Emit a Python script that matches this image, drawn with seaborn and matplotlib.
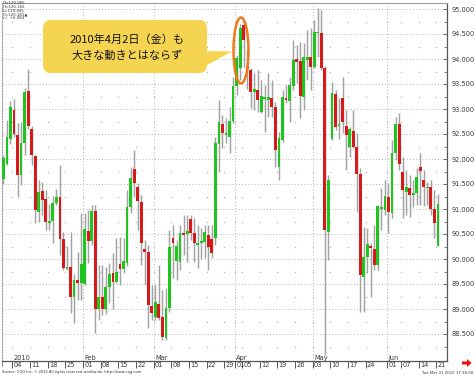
import numpy as np
import pandas as pd
import matplotlib
matplotlib.use("Agg")
import matplotlib.pyplot as plt
import seaborn as sns
from matplotlib.patches import FancyBboxPatch, Polygon, Ellipse
from matplotlib.transforms import Bbox, TransformedBbox

# ---------------- data (USD/JPY daily) ----------------
opens = [91.61, 91.90, 92.41, 92.98, 92.48, 91.68, 92.32, 93.36, 92.60, 92.06,
         90.94, 91.36, 91.20, 90.72, 90.76, 91.12, 91.24, 90.40, 89.80, 89.84,
         89.24, 89.58, 89.52, 89.50, 90.56, 90.36, 90.96, 89.00, 89.24, 89.00,
         89.44, 89.72, 89.54, 89.90, 89.80, 89.92, 91.04, 91.80, 91.44, 91.14,
         90.20, 90.14, 89.06, 88.84, 89.10, 88.84, 88.42, 89.02, 90.42, 89.96,
         89.94, 90.52, 90.50, 90.80, 90.52, 90.28, 90.32, 90.34, 90.48, 90.40,
         90.42, 92.30, 92.70, 92.48, 92.44, 92.76, 93.46, 93.82, 94.68, 93.86,
         93.78, 93.34, 93.38, 92.94, 93.20, 93.18, 93.22, 93.04, 91.84, 92.38,
         93.22, 93.16, 93.46, 94.00, 93.96, 93.24, 93.98, 94.04, 93.84, 94.52,
         94.52, 93.82, 90.54, 92.40, 93.30, 92.66, 93.22, 92.66, 92.24, 92.56,
         92.24, 91.70, 89.64, 90.04, 90.26, 90.20, 89.88, 91.00, 90.98, 91.24,
         90.92, 92.12, 92.70, 91.74, 91.34, 91.42, 91.28, 91.32, 91.84, 91.58,
         91.42, 91.44, 91.00, 90.26]
highs = [92.08, 92.78, 93.16, 93.20, 92.72, 92.74, 93.43, 93.80, 92.66, 92.08,
         91.58, 91.54, 91.38, 91.10, 91.26, 91.40, 91.88, 90.54, 90.26, 90.54,
         89.70, 90.14, 90.92, 90.92, 90.98, 91.08, 91.08, 89.88, 89.88, 89.84,
         89.92, 90.12, 90.42, 90.44, 90.42, 91.38, 91.84, 92.18, 91.52, 91.28,
         90.38, 90.28, 89.48, 89.48, 89.88, 89.38, 89.42, 90.58, 90.68, 90.38,
         90.68, 90.88, 90.88, 90.88, 90.82, 90.68, 90.62, 90.68, 90.68, 90.68,
         92.44, 93.18, 92.88, 92.82, 93.04, 93.64, 94.08, 94.70, 94.72, 94.20,
         93.82, 93.72, 93.78, 93.58, 93.48, 93.72, 93.58, 93.14, 92.54, 93.38,
         93.48, 93.64, 94.38, 94.28, 94.34, 94.32, 94.58, 94.62, 94.78, 95.02,
         94.98, 93.86, 91.68, 93.54, 93.38, 93.22, 93.64, 92.98, 92.64, 92.98,
         92.52, 91.82, 90.64, 90.62, 90.32, 90.68, 91.08, 91.42, 91.58, 91.52,
         92.38, 92.84, 92.92, 92.04, 91.78, 91.68, 91.58, 91.82, 92.12, 91.78,
         91.54, 91.58, 91.38, 91.30]
lows = [91.51, 91.88, 92.30, 92.44, 91.24, 91.48, 92.08, 92.60, 91.88, 90.72,
        90.74, 90.88, 90.58, 90.58, 90.32, 91.08, 90.08, 89.78, 89.78, 88.92,
        88.72, 89.18, 89.18, 89.48, 89.92, 90.28, 88.52, 88.78, 88.88, 88.90,
        89.12, 89.00, 89.52, 89.48, 89.72, 89.86, 90.92, 91.24, 90.58, 89.88,
        89.48, 88.62, 88.78, 88.78, 88.78, 88.38, 88.38, 88.94, 89.62, 89.58,
        89.78, 90.08, 89.94, 90.38, 89.94, 89.82, 90.00, 90.02, 89.78, 90.02,
        90.28, 91.74, 92.22, 92.32, 92.12, 92.72, 93.28, 93.58, 93.84, 93.40,
        93.02, 92.98, 92.94, 92.92, 92.54, 92.84, 92.84, 91.84, 91.58, 92.34,
        93.12, 92.74, 93.38, 93.52, 92.82, 92.98, 93.58, 93.38, 93.82, 94.04,
        93.78, 88.08, 89.98, 92.38, 92.58, 92.40, 92.52, 91.78, 92.04, 92.22,
        90.94, 88.94, 88.94, 89.72, 89.24, 89.78, 89.78, 90.58, 90.88, 90.52,
        90.82, 91.98, 91.78, 90.82, 90.88, 90.84, 91.04, 91.08, 91.08, 91.06,
        91.08, 90.88, 90.42, 90.26]
closes = [92.01, 92.43, 93.05, 92.50, 91.68, 92.32, 93.35, 92.66, 92.08, 90.98,
          91.34, 91.18, 90.74, 90.76, 91.12, 91.24, 90.40, 89.82, 89.84, 89.24,
          89.58, 89.52, 89.90, 90.60, 90.36, 90.96, 89.00, 89.24, 89.00, 89.44,
          89.70, 89.54, 89.74, 89.80, 89.96, 91.04, 91.62, 91.52, 91.16, 90.32,
          90.14, 89.08, 88.92, 89.14, 88.82, 88.44, 89.02, 90.24, 90.32, 90.26,
          90.52, 90.48, 90.56, 90.52, 90.32, 90.32, 90.36, 90.54, 90.24, 90.12,
          92.32, 92.74, 92.52, 92.52, 92.76, 93.46, 94.02, 94.62, 94.38, 93.80,
          93.34, 93.40, 93.18, 93.26, 93.24, 93.24, 93.04, 92.18, 92.42, 93.24,
          93.18, 93.48, 93.98, 93.94, 93.26, 94.04, 94.04, 93.84, 94.54, 94.54,
          93.82, 90.58, 91.58, 93.32, 92.64, 92.70, 92.74, 92.48, 92.60, 92.24,
          91.70, 89.68, 90.04, 90.30, 90.22, 89.88, 91.06, 91.04, 91.26, 90.94,
          92.12, 92.70, 91.90, 91.38, 91.44, 91.28, 91.32, 91.64, 91.76, 91.44,
          91.44, 91.00, 90.72, 91.10]

# x-axis categories (trading-day index of each labelled date)
tick_idx = [-2, 3, 8, 13, 18, 23, 28, 33, 38, 43, 48, 53, 58, 63, 66, 68, 73, 78,
            83, 88, 93, 98, 103, 109, 113, 118, 123]
tick_lbl = ["28", "04", "11", "18", "25", "01", "08", "15", "22", "01", "08", "15",
            "22", "29", "01", "05", "12", "19", "26", "03", "10", "17", "24",
            "01", "07", "14", "21"]
month_idx = [3, 23, 43, 66, 88, 109]
month_lbl = ["2010", "Feb", "Mar", "Apr", "May", "Jun"]
y_ticks = [88.5, 89.0, 89.5, 90.0, 90.5, 91.0, 91.5, 92.0, 92.5, 93.0, 93.5,
           94.0, 94.5, 95.0]
quote_lines = ["O=120.065", "H=120.165", "L=119.945", "C=120.181\u25b2", "+/- +0.084"]
callout_lines = ["2010年4月2日（金）も", "大きな動きとはならず"]

# ---------------- style ----------------
sns.set_theme(style="white")
plt.rcParams["font.family"] = ["DejaVu Sans", "Noto Sans CJK JP"]

W, H = 475, 377
fig = plt.figure(figsize=(W / 100, H / 100), dpi=100)
fig.patch.set_facecolor("white")

ax_l, ax_r, ax_t, ax_b = 2, 447, 3, 361
ax = fig.add_axes([ax_l / W, 1 - ax_b / H, (ax_r - ax_l) / W, (ax_b - ax_t) / H])
ax.set_facecolor("white")

df = pd.DataFrame({"open": opens, "high": highs, "low": lows, "close": closes})
df["idx"] = np.arange(len(df))
df["up"] = df["close"] >= df["open"]
df["bottom"] = df[["open", "close"]].min(axis=1)
df["height"] = (df["close"] - df["open"]).abs()

ax.set_ylim(87.96, 95.12)
ax.set_xlim(-0.40, 125.56)

for yv in y_ticks:
    ax.axhline(yv, color="#b5b5b5", lw=0.7, ls=(0, (1, 2.2)), zorder=0)
for mi in month_idx[1:]:
    ax.axvline(mi - 0.5, color="#b5b5b5", lw=0.7, ls=(0, (1, 2.2)), zorder=0)
qx, qy = [], []
for t in tick_idx[1:]:
    for yv in y_ticks:
        qx.append(t - 0.5)
        qy.append(yv - 0.25)
sns.scatterplot(x=qx, y=qy, ax=ax, s=1.2, color="#bdbdbd", linewidth=0, zorder=0)

ax.vlines(df["idx"], df["low"], df["high"], color="#a2a2a2", lw=1.05, zorder=2)
colors = np.where(df["up"], "#1fc41f", "#d61a1a")
ax.bar(df["idx"], df["height"], bottom=df["bottom"], width=0.8, color=colors,
       linewidth=0, zorder=3)

for s in ["top", "bottom", "left", "right"]:
    ax.spines[s].set_visible(True)
ax.spines["top"].set_color("#9a9a9a")
ax.spines["top"].set_linewidth(0.8)
ax.spines["left"].set_color("#9a9a9a")
ax.spines["left"].set_linewidth(0.8)
ax.spines["left"].set_linestyle((0, (1, 1.5)))
ax.spines["right"].set_color("#555555")
ax.spines["right"].set_linewidth(0.9)
ax.spines["right"].set_linestyle((0, (2, 1)))
ax.spines["bottom"].set_color("#555555")
ax.spines["bottom"].set_linewidth(0.9)
ax.spines["bottom"].set_linestyle((0, (2, 1)))

ax.yaxis.tick_right()
ax.set_yticks(y_ticks)
ax.set_yticklabels([f"{v:.3f}" for v in y_ticks])
ax.set_yticks([v - 0.25 for v in y_ticks], minor=True)
ax.tick_params(axis="y", which="major", direction="in", length=3, width=0.6,
               color="#555555", pad=3, labelsize=4.8, labelcolor="#3a3a3a",
               right=True, left=False)
ax.tick_params(axis="y", which="minor", direction="in", length=2, width=0.5,
               color="#555555", right=True, left=False)
ax.set_xticks([])

xt = ax.get_xaxis_transform()
clip = TransformedBbox(Bbox([[ax_l / W, 0], [1, 1]]), fig.transFigure)
ax_h = ax_b - ax_t
ax.vlines([t - 0.5 for t in tick_idx], -7 / ax_h, 0, transform=xt, color="#555555",
          lw=0.7, clip_on=False)
for t, lbl in zip(tick_idx, tick_lbl):
    tx = ax.text(t - 0.1, -3.6 / ax_h, lbl, transform=xt, ha="left", va="center",
                 fontsize=4.8, color="#3a3a3a", clip_on=False)
    tx.set_clip_box(clip)
    tx.set_clip_on(True)
for m, lbl in zip(month_idx, month_lbl):
    ax.text(m - 0.1, 3.2 / ax_h, lbl, transform=xt, ha="left", va="center",
            fontsize=4.8, color="#3a3a3a")

ov = fig.add_axes([0, 0, 1, 1], zorder=10)
ov.set_xlim(0, W)
ov.set_ylim(H, 0)
ov.axis("off")
ov.patch.set_alpha(0)

for k, line in enumerate(quote_lines):
    ov.text(2.5, 3.0 + 3.8 * k, line, fontsize=2.9, color="#333333",
            ha="left", va="center", family=["DejaVu Sans"])

yellow = "#f5d452"
ov.add_patch(Polygon([(196, 51), (232, 51.5), (196, 71)], closed=True,
                     facecolor=yellow, edgecolor="none"))
ov.add_patch(FancyBboxPatch((43 + 8, 20 + 8), 164 - 16, 53 - 16,
                            boxstyle="round,pad=8", facecolor=yellow,
                            edgecolor="none"))
ov.text(127, 40, callout_lines[0], fontsize=8, ha="center", va="center",
        color="#111111", family=["Noto Sans CJK JP", "DejaVu Sans"])
ov.text(127, 56, callout_lines[1], fontsize=8, ha="center", va="center",
        color="#111111", family=["Noto Sans CJK JP", "DejaVu Sans"])

ov.add_patch(Ellipse((241, 50.5), 15, 66, facecolor="none", edgecolor="#f07a1c",
                     lw=1.8))

ov.text(2, 372.5, "Source: CQG Inc. \u00a9 2015 All rights reserved worldwide. "
        "http://www.cqg.com", fontsize=2.6, color="#333333", ha="left",
        va="center")
ov.text(473, 372.5, "Tue Mar 31 2015 17:36:00", fontsize=2.8, color="#333333",
        ha="right", va="center")
ov.add_patch(Polygon([(462, 361.5), (467, 361.5), (467, 359), (471.5, 363),
                      (467, 367), (467, 364.5), (462, 364.5)], closed=True,
                     facecolor="#ee1111", edgecolor="none"))

fig.savefig("out.png", dpi=100)
